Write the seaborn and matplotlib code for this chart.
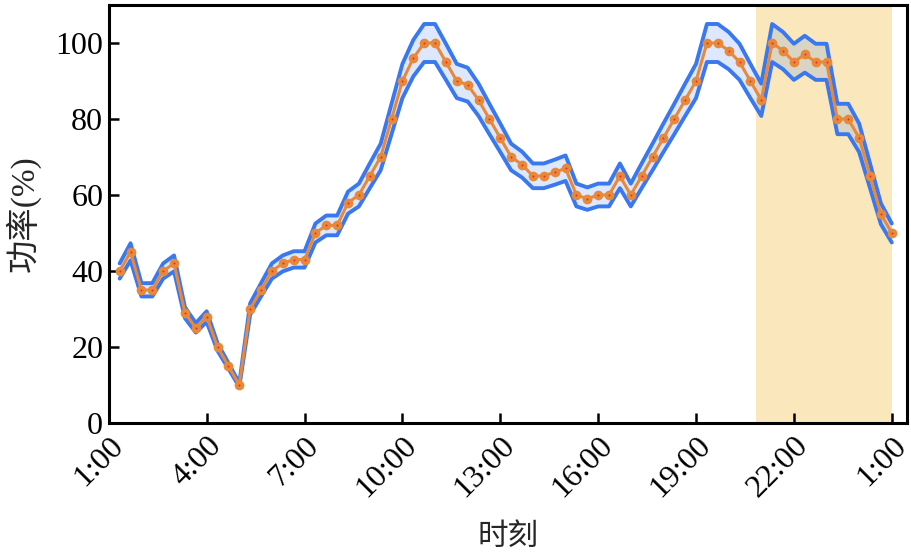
import matplotlib
matplotlib.use("Agg")
import matplotlib.pyplot as plt
import seaborn as sns
import pandas as pd

# ---- data (20-minute steps; index 0 = 1:00, index 72 = 1:00 next day) ----
time_index = list(range(1, 73))
power = [40, 45, 35, 35, 40, 42, 29, 25, 28, 20, 15, 10,
         30, 35, 40, 42, 43, 43, 50, 52, 52, 58, 60, 65,
         70, 80, 90, 96, 100, 100, 95, 90, 89, 85, 80, 75,
         70, 68, 65, 65, 66, 67, 60, 59, 60, 60, 65, 60,
         65, 70, 75, 80, 85, 90, 100, 100, 98, 95, 90, 85,
         100, 98, 95, 97, 95, 95, 80, 80, 75, 65, 55, 50]
upper = [42.0, 47.3, 36.8, 36.8, 42.0, 44.1, 30.5, 26.3, 29.4, 21.0, 15.8, 10.5,
         31.5, 36.8, 42.0, 44.1, 45.2, 45.2, 52.5, 54.6, 54.6, 60.9, 63.0, 68.3,
         73.5, 84.0, 94.5, 100.8, 105.0, 105.0, 99.8, 94.5, 93.5, 89.3, 84.0, 78.8,
         73.5, 71.4, 68.3, 68.3, 69.3, 70.4, 63.0, 62.0, 63.0, 63.0, 68.3, 63.0,
         68.3, 73.5, 78.8, 84.0, 89.3, 94.5, 105.0, 105.0, 102.9, 99.8, 94.5, 89.3,
         105.0, 102.9, 99.8, 101.9, 99.8, 99.8, 84.0, 84.0, 78.8, 68.3, 57.8, 52.5]
lower = [38.0, 42.8, 33.3, 33.3, 38.0, 39.9, 27.6, 23.8, 26.6, 19.0, 14.3, 9.5,
         28.5, 33.3, 38.0, 39.9, 40.9, 40.9, 47.5, 49.4, 49.4, 55.1, 57.0, 61.8,
         66.5, 76.0, 85.5, 91.2, 95.0, 95.0, 90.3, 85.5, 84.6, 80.8, 76.0, 71.3,
         66.5, 64.6, 61.8, 61.8, 62.7, 63.7, 57.0, 56.1, 57.0, 57.0, 61.8, 57.0,
         61.8, 66.5, 71.3, 76.0, 80.8, 85.5, 95.0, 95.0, 93.1, 90.3, 85.5, 80.8,
         95.0, 93.1, 90.3, 92.2, 90.3, 90.3, 76.0, 76.0, 71.3, 61.8, 52.3, 47.5]
tick_pos = [0, 9, 18, 27, 36, 45, 54, 63, 72]
tick_labels = ["1:00", "4:00", "7:00", "10:00", "13:00", "16:00", "19:00", "22:00", "1:00"]
y_ticks = [0, 20, 40, 60, 80, 100]
shade_span = [59.5, 72]

df = pd.DataFrame({"t": time_index, "p": power, "up": upper, "lo": lower})

sns.set_style("ticks")
plt.rcParams["font.family"] = ["Liberation Serif", "Noto Sans CJK SC"]

BLUE = "#3a78f0"
ORANGE = "#e8883a"

fig = plt.figure(figsize=(9.11, 5.54), dpi=100)
ax = fig.add_axes([108.8 / 911, 1 - 423 / 554, (907 - 108.8) / 911, (423 - 5) / 554])

ax.axvspan(shade_span[0], shade_span[1], color="#fae8bc", lw=0, zorder=0)
ax.fill_between(df["t"], df["lo"], df["up"], color=BLUE, alpha=0.17, lw=0, zorder=1)
sns.lineplot(data=df, x="t", y="up", color=BLUE, lw=2.8, ax=ax, zorder=2)
sns.lineplot(data=df, x="t", y="lo", color=BLUE, lw=2.8, ax=ax, zorder=2)
sns.lineplot(data=df, x="t", y="p", color=ORANGE, lw=2.2, marker="o", markersize=7,
             markeredgewidth=0, ax=ax, zorder=3)
ax.scatter(df["t"], df["p"], s=2, color="#e0302a", linewidths=0, zorder=4)

ax.set_xlim(0, 73.4)
ax.set_ylim(0, 110)
ax.set_xticks(tick_pos)
ax.set_xticklabels(tick_labels, rotation=45, ha="right", va="top", rotation_mode="anchor")
ax.set_yticks(y_ticks)
ax.tick_params(direction="in", length=7, width=1.8, labelsize=23, pad=6, colors="black")
ax.tick_params(axis="y", pad=4)
for s in ax.spines.values():
    s.set_linewidth(2.2)
    s.set_color("black")

ax.set_xlabel("时刻", fontsize=22)
ax.set_ylabel("功率(%)", fontsize=24)
ax.xaxis.set_label_coords(0.5, -0.24)
ax.yaxis.set_label_coords(-0.085, 0.5)

fig.savefig("out.png", dpi=100)
